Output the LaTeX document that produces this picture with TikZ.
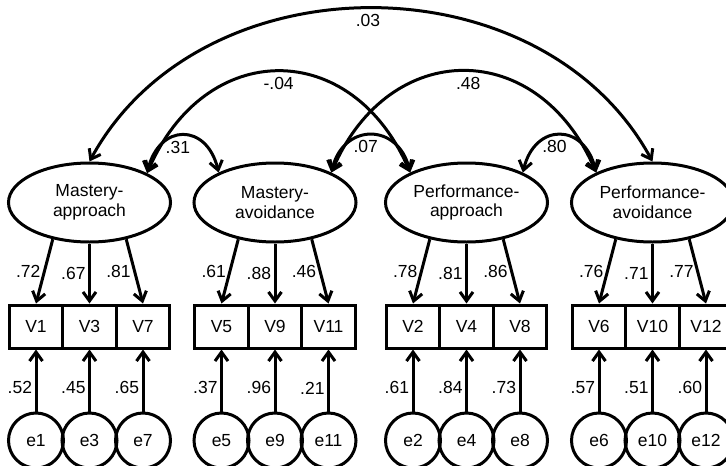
\documentclass[tikz,border=0pt]{standalone}
\usepackage{fontspec}
\setmainfont{Liberation Sans}
\usetikzlibrary{arrows.meta,shapes.geometric}
\begin{document}
\begin{tikzpicture}[x=1pt,y=-1pt,
  font=\fontsize{17.5}{19.5}\selectfont,
  lw/.style={line width=3pt},
  lat/.style={ellipse,draw,lw,minimum width=162pt,minimum height=79pt,inner sep=0pt,align=center},
  obs/.style={rectangle,draw,lw,minimum width=53.5pt,minimum height=43pt,inner sep=0pt},
  err/.style={circle,draw,lw,minimum size=55pt,inner sep=0pt},
  tipb/.tip={Straight Barb[length=9pt,width=13pt]},
  arr/.style={lw,-tipb},
  darr/.style={lw,tipb-tipb},
  lbl/.style={inner sep=2.5pt},
  clbl/.style={inner sep=4pt,below}
]
\useasboundingbox (0,0) rectangle (726,466);

% latent factors
\node[lat] (L1) at (89.5,202.5) {Mastery-\\approach};
\node[lat] (L2) at (275,202.5) {Mastery-\\avoidance};
\node[lat] (L3) at (466.5,202.5) {Performance-\\approach};
\node[lat] (L4) at (652.5,202.5) {Performance-\\avoidance};

% observed variables
\node[obs] (V1) at (36,326.5) {V1};
\node[obs] (V3) at (89.5,326.5) {V3};
\node[obs] (V7) at (143,326.5) {V7};
\node[obs] (V5) at (221.5,326.5) {V5};
\node[obs] (V9) at (275,326.5) {V9};
\node[obs] (V11) at (328.5,326.5) {V11};
\node[obs] (V2) at (413,326.5) {V2};
\node[obs] (V4) at (466.5,326.5) {V4};
\node[obs] (V8) at (520,326.5) {V8};
\node[obs] (V6) at (599,326.5) {V6};
\node[obs] (V10) at (652.5,326.5) {V10};
\node[obs] (V12) at (706,326.5) {V12};

% errors
\node[err] (e1) at (36,440.5) {e1};
\node[err] (e3) at (89.5,440.5) {e3};
\node[err] (e7) at (143,440.5) {e7};
\node[err] (e5) at (221.5,440.5) {e5};
\node[err] (e9) at (275,440.5) {e9};
\node[err] (e11) at (328.5,440.5) {e11};
\node[err] (e2) at (413,440.5) {e2};
\node[err] (e4) at (466.5,440.5) {e4};
\node[err] (e8) at (520,440.5) {e8};
\node[err] (e6) at (599,440.5) {e6};
\node[err] (e10) at (652.5,440.5) {e10};
\node[err] (e12) at (706,440.5) {e12};

% loadings
\draw[arr] (L1.-135) -- node[lbl,left]{.72} (V1.north);
\draw[arr] (L1.south) -- node[lbl,left]{.67} (V3.north);
\draw[arr] (L1.-45) -- node[lbl,left]{.81} (V7.north);
\draw[arr] (L2.-135) -- node[lbl,left]{.61} (V5.north);
\draw[arr] (L2.south) -- node[lbl,left]{.88} (V9.north);
\draw[arr] (L2.-45) -- node[lbl,left]{.46} (V11.north);
\draw[arr] (L3.-135) -- node[lbl,left]{.78} (V2.north);
\draw[arr] (L3.south) -- node[lbl,left]{.81} (V4.north);
\draw[arr] (L3.-45) -- node[lbl,left]{.86} (V8.north);
\draw[arr] (L4.-135) -- node[lbl,left]{.76} (V6.north);
\draw[arr] (L4.south) -- node[lbl,left]{.71} (V10.north);
\draw[arr] (L4.-45) -- node[lbl,left]{.77} (V12.north);

% error paths
\draw[arr] (e1.north) -- node[lbl,left,pos=0.38]{.52} (V1.south);
\draw[arr] (e3.north) -- node[lbl,left,pos=0.38]{.45} (V3.south);
\draw[arr] (e7.north) -- node[lbl,left,pos=0.38]{.65} (V7.south);
\draw[arr] (e5.north) -- node[lbl,left,pos=0.38]{.37} (V5.south);
\draw[arr] (e9.north) -- node[lbl,left,pos=0.38]{.96} (V9.south);
\draw[arr] (e11.north) -- node[lbl,left,pos=0.38]{.21} (V11.south);
\draw[arr] (e2.north) -- node[lbl,left,pos=0.38]{.61} (V2.south);
\draw[arr] (e4.north) -- node[lbl,left,pos=0.38]{.84} (V4.south);
\draw[arr] (e8.north) -- node[lbl,left,pos=0.38]{.73} (V8.south);
\draw[arr] (e6.north) -- node[lbl,left,pos=0.38]{.57} (V6.south);
\draw[arr] (e10.north) -- node[lbl,left,pos=0.38]{.51} (V10.south);
\draw[arr] (e12.north) -- node[lbl,left,pos=0.38]{.60} (V12.south);

% correlations
\draw[darr] (L1.north) .. controls +(111,-204) and +(-111,-204) .. node[clbl,xshift=-3pt]{.03} (L4.north);
\draw[darr] (L1.27) .. controls +(58,-135) and +(-58,-135) .. node[clbl]{-.04} (L3.152);
\draw[darr] (L2.28) .. controls +(58,-135) and +(-58,-135) .. node[clbl,xshift=4.5pt]{.48} (L4.152);
\draw[darr] (L1.27) .. controls +(12,-50) and +(-12,-50) .. node[clbl,xshift=-5pt]{.31} (L2.152);
\draw[darr] (L2.28) .. controls +(12,-50) and +(-12,-50) .. node[clbl,xshift=-5pt]{.07} (L3.152);
\draw[darr] (L3.28) .. controls +(12,-50) and +(-12,-50) .. node[clbl,xshift=-5pt]{.80} (L4.152);
\end{tikzpicture}
\end{document}
